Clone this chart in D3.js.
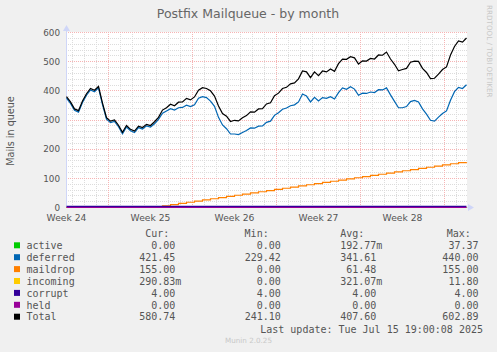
<!DOCTYPE html>
<html>
<head>
<meta charset="utf-8">
<script src="https://cdn.jsdelivr.net/npm/d3@7"></script>
<style>
  body { margin: 0; background: #f0f0f0; }
  svg { display: block; }
</style>
</head>
<body>
<div id="chart"></div>
<script>
// legend rows
const seriesNames = ["active", "deferred", "maildrop", "incoming", "corrupt", "held", "Total"];
const seriesColors = ["#00cc00", "#0066b3", "#ff8000", "#ffcc00", "#330099", "#990099", "#000000"];
const curVals = ["0.00 ", "421.45 ", "155.00 ", "290.83m", "4.00 ", "0.00 ", "580.74 "];
const minVals = ["0.00 ", "229.42 ", "0.00 ", "0.00 ", "4.00 ", "0.00 ", "241.10 "];
const avgVals = ["192.77m", "341.61 ", "61.48 ", "321.07m", "4.00 ", "0.00 ", "407.60 "];
const maxVals = ["37.37 ", "440.00 ", "155.00 ", "11.80 ", "4.00 ", "0.00 ", "602.89 "];

const weekLabels = ["Week 24", "Week 25", "Week 26", "Week 27", "Week 28"];
const yTicks = [0, 100, 200, 300, 400, 500, 600];

// one sample every 8 hours, starting Jun 12 2025 12:00
const startTime = Date.UTC(2025, 5, 12, 12);
const stepHours = 8;

const total = [380, 362, 338, 332, 365, 390, 408, 402, 415, 358,
  308, 296, 300, 282, 258, 281, 268, 262, 279, 274,
  285, 281, 294, 309, 334, 342, 354, 349, 361, 362,
  374, 369, 379, 402, 411, 408, 400, 382, 348, 322,
  313, 295, 299, 297, 308, 315, 328, 327, 338, 339,
  355, 359, 383, 392, 408, 412, 424, 427, 441, 468,
  465, 445, 465, 452, 468, 465, 475, 467, 493, 509,
  508, 517, 513, 492, 503, 502, 511, 509, 523, 522,
  533, 509, 491, 469, 473, 477, 498, 502, 501, 477,
  463, 442, 443, 457, 473, 482, 523, 552, 571, 567, 581];

const deferred = [375, 357, 333, 327, 360, 385, 403, 397, 410, 353,
  303, 291, 295, 277, 253, 276, 263, 257, 274, 269,
  280, 276, 287, 302, 323, 331, 339, 334, 342, 343,
  351, 346, 352, 375, 380, 377, 365, 347, 309, 283,
  270, 252, 252, 250, 257, 264, 273, 272, 279, 280,
  292, 296, 316, 325, 337, 341, 349, 352, 362, 389,
  382, 362, 378, 365, 377, 374, 380, 372, 394, 410,
  405, 414, 406, 385, 392, 391, 396, 394, 404, 403,
  410, 386, 364, 342, 342, 346, 363, 367, 362, 338,
  320, 299, 296, 310, 322, 331, 368, 397, 412, 408, 421];

const maildrop = [0, 0, 0, 0, 0, 0, 0, 0, 0, 0,
  0, 0, 0, 0, 0, 0, 0, 0, 0, 0,
  0, 0, 2, 2, 6, 6, 10, 10, 14, 14,
  18, 18, 22, 22, 26, 26, 30, 30, 34, 34,
  38, 38, 42, 42, 46, 46, 50, 50, 54, 54,
  58, 58, 62, 62, 66, 66, 70, 70, 74, 74,
  78, 78, 82, 82, 86, 86, 90, 90, 94, 94,
  98, 98, 102, 102, 106, 106, 110, 110, 114, 114,
  118, 118, 122, 122, 126, 126, 130, 130, 134, 134,
  138, 138, 142, 142, 146, 146, 150, 150, 154, 154, 155];

const corrupt = total.map(() => 4);
const zeroLine = total.map(() => 0);

const W = 497, H = 352;
const svg = d3.select("#chart").append("svg")
  .attr("width", W).attr("height", H)
  .style("font-family", "'DejaVu Sans', sans-serif");

svg.append("rect").attr("width", W).attr("height", H).attr("fill", "#f0f0f0");

const endTime = startTime + 100 * stepHours * 3600e3;
const x = d3.scaleUtc().domain([new Date(startTime), new Date(endTime)]).range([66.5, 466.5]);
const y = d3.scaleLinear().domain([0, 600]).range([207.5, 32.5]);
const t = i => new Date(startTime + i * stepHours * 3600e3);

// canvas
svg.append("rect").attr("x", 66).attr("y", 32).attr("width", 401).attr("height", 176).attr("fill", "#ffffff");

// grid
const grid = svg.append("g").attr("stroke-width", 1).attr("shape-rendering", "crispEdges");
const days = d3.utcDay.range(x.domain()[0], x.domain()[1]);
const minorCol = "#dcdcdc", majorCol = "#f6b4b4";
grid.selectAll(".vmin").data(days.filter(d => d.getUTCDay() !== 1)).enter().append("line")
  .attr("x1", d => Math.round(x(d) - 0.5) + 0.5).attr("x2", d => Math.round(x(d) - 0.5) + 0.5)
  .attr("y1", 32).attr("y2", 208)
  .attr("stroke", minorCol).attr("stroke-dasharray", "1,1");
d3.range(0, 601, 20).filter(v => v % 100 !== 0).forEach(v => {
  grid.append("line").attr("x1", 66).attr("x2", 467).attr("y1", y(v)).attr("y2", y(v))
    .attr("stroke", minorCol).attr("stroke-dasharray", "1,1");
});
grid.selectAll(".vmaj").data(days.filter(d => d.getUTCDay() === 1)).enter().append("line")
  .attr("x1", d => Math.round(x(d) - 0.5) + 0.5).attr("x2", d => Math.round(x(d) - 0.5) + 0.5)
  .attr("y1", 32).attr("y2", 208)
  .attr("stroke", majorCol).attr("stroke-dasharray", "1,1");
yTicks.forEach(v => {
  grid.append("line").attr("x1", 66).attr("x2", 467).attr("y1", y(v)).attr("y2", y(v))
    .attr("stroke", majorCol).attr("stroke-dasharray", "1,1");
});

// axes
const axisCol = "#cfd6f8";
svg.append("line").attr("x1", 66.5).attr("x2", 66.5).attr("y1", 29).attr("y2", 208)
  .attr("stroke", axisCol);
svg.append("path").attr("d", "M63,31 L70,31 L66.5,25 Z").attr("fill", axisCol);
svg.append("line").attr("x1", 66).attr("x2", 470).attr("y1", 207.5).attr("y2", 207.5)
  .attr("stroke", axisCol);
svg.append("path").attr("d", "M468,204 L468,211 L474,207.5 Z").attr("fill", axisCol);

svg.append("g").selectAll("text").data(yTicks).enter().append("text")
  .attr("x", 60).attr("y", d => y(d) + 3.2).attr("text-anchor", "end")
  .attr("font-size", 8.8).attr("fill", "#555").text(d => d);

svg.append("g").selectAll("text").data(weekLabels).enter().append("text")
  .attr("x", (d, i) => x(new Date(startTime + i * 7 * 864e5)))
  .attr("y", 220.5).attr("text-anchor", "middle")
  .attr("font-size", 9.2).attr("fill", "#555").text(d => d);

// lines
const line = d3.line().x((d, i) => x(t(i))).y(d => y(d));
const stepLine = d3.line().x((d, i) => x(t(i))).y(d => y(d)).curve(d3.curveStepAfter);
const drawn = [
  [zeroLine, 0, line], [deferred, 1, line], [maildrop, 2, stepLine], [zeroLine, 3, line],
  [corrupt, 4, line], [zeroLine, 5, line], [total, 6, line]
];
drawn.forEach(([data, k, gen]) => {
  svg.append("path").datum(data).attr("d", gen)
    .attr("fill", "none").attr("stroke", seriesColors[k]).attr("stroke-width", 1.2);
});

// titles
svg.append("text").attr("x", 248).attr("y", 18).attr("text-anchor", "middle")
  .attr("font-size", 12.5).attr("fill", "#666").text("Postfix Mailqueue - by month");
svg.append("text").attr("transform", "translate(14,131) rotate(-90)").attr("text-anchor", "middle")
  .attr("font-size", 9.6).attr("fill", "#555").text("Mails in queue");
svg.append("text").attr("transform", "translate(487,5) rotate(90)").attr("text-anchor", "start")
  .attr("font-size", 7.2).attr("fill", "#c8c8c8").text("RRDTOOL / TOBI OETIKER");

// legend
const mono = "'DejaVu Sans Mono', monospace";
const leg = svg.append("g").style("font-family", mono).attr("font-size", 10).attr("fill", "#555");
[["Cur:", 145.2], ["Min:", 244.6], ["Avg:", 340.2], ["Max:", 446.8]].forEach(([s, px]) => {
  leg.append("text").attr("x", px).attr("y", 236.7).text(s).attr("xml:space", "preserve");
});
const colEnds = [181.3, 286.8, 382.3, 484.5];
seriesNames.forEach((name, i) => {
  const by = 249 + i * 11.9;
  leg.append("rect").attr("x", 14).attr("y", by - 6.7).attr("width", 6).attr("height", 6)
    .attr("fill", seriesColors[i]);
  leg.append("text").attr("x", 26.5).attr("y", by).text(name);
  [curVals, minVals, avgVals, maxVals].forEach((col, c) => {
    leg.append("text").attr("x", colEnds[c]).attr("y", by).attr("text-anchor", "end")
      .attr("xml:space", "preserve").text(col[i]);
  });
});
leg.append("text").attr("x", 483).attr("y", 332.7).attr("text-anchor", "end")
  .text("Last update: Tue Jul 15 19:00:08 2025");
svg.append("text").attr("x", 248.5).attr("y", 343.3).attr("text-anchor", "middle")
  .attr("font-size", 7.2).attr("fill", "#c8c8c8").text("Munin 2.0.25");
</script>
</body>
</html>
